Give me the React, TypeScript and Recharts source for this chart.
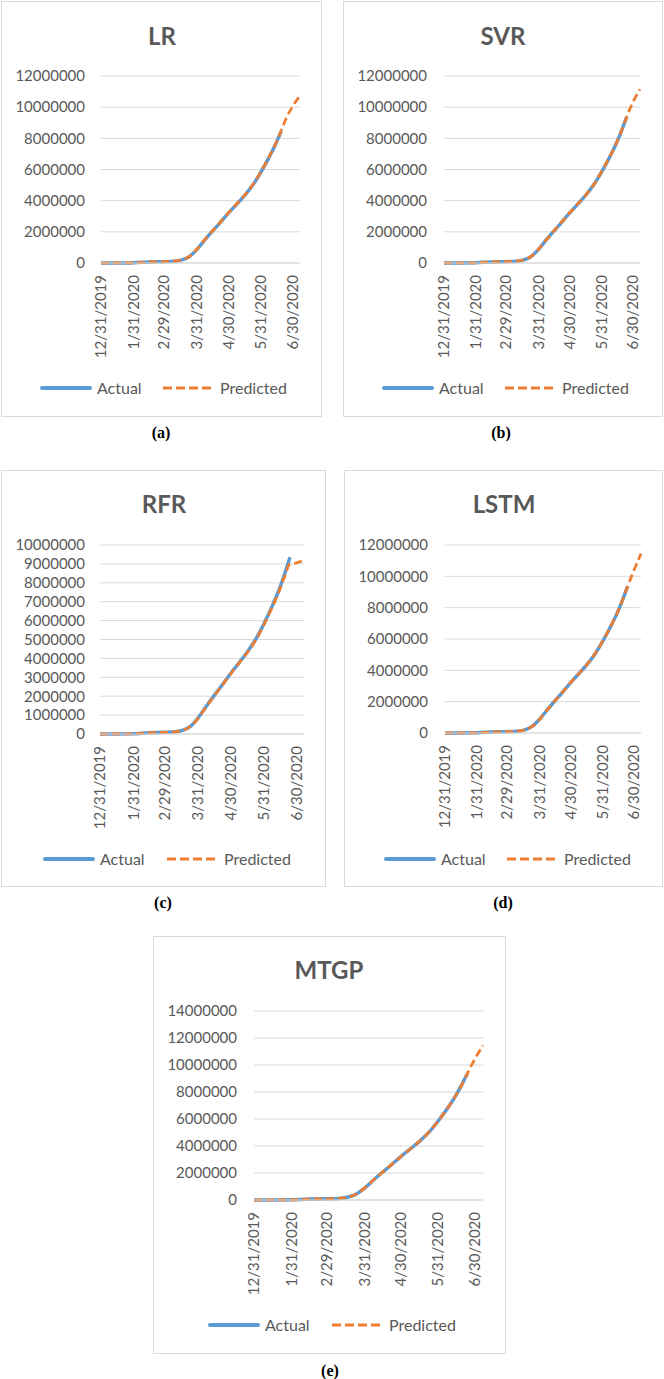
import React from 'react';
import { LineChart, Line, XAxis, YAxis, CartesianGrid } from 'recharts';

// days since 12/31/2019
const DAYS = [0, 15, 31, 45, 60, 70, 77, 84, 91, 98, 105, 112, 121, 129, 137, 145, 152, 159, 166, 171, 176, 182, 189];

const ACTUAL = [27, 1500, 9800, 71000, 87000, 118000, 200000, 420000, 860000, 1430000, 1980000, 2500000, 3200000, 3780000, 4380000, 5080000, 5850000, 6700000, 7650000, 8450000, 9350000, null, null];

const LR_PRED = [0, 2000, 10000, 66000, 86000, 121000, 210000, 430000, 880000, 1450000, 2000000, 2520000, 3220000, 3800000, 4400000, 5100000, 5870000, 6720000, 7670000, 8470000, 9300000, 10050000, 10750000];
const SVR_PRED = [0, 1800, 9500, 68000, 88000, 119000, 205000, 425000, 870000, 1440000, 1990000, 2510000, 3210000, 3790000, 4390000, 5090000, 5860000, 6710000, 7660000, 8460000, 9350000, 10300000, 11150000];
const RFR_PRED = [0, 1600, 9000, 69000, 86000, 117000, 198000, 410000, 840000, 1400000, 1960000, 2480000, 3180000, 3760000, 4350000, 5030000, 5800000, 6640000, 7560000, 8330000, 9000000, 9050000, 9200000];
const LSTM_PRED = [0, 1700, 9600, 70000, 87000, 118000, 202000, 422000, 865000, 1435000, 1985000, 2505000, 3205000, 3785000, 4385000, 5085000, 5855000, 6705000, 7655000, 8455000, 9350000, 10350000, 11450000];
const MTGP_PRED = [0, 1600, 9700, 70000, 87000, 118000, 201000, 421000, 862000, 1432000, 1982000, 2502000, 3202000, 3782000, 4382000, 5082000, 5852000, 6702000, 7652000, 8452000, 9350000, 10400000, 11450000];

const TICK_DAYS = [0, 31, 60, 91, 121, 152, 182];
const TICK_LABELS = ['12/31/2019', '1/31/2020', '2/29/2020', '3/31/2020', '4/30/2020', '5/31/2020', '6/30/2020'];

const Y_TICKS_12M = [0, 2000000, 4000000, 6000000, 8000000, 10000000, 12000000];
const Y_TICKS_10M = [0, 1000000, 2000000, 3000000, 4000000, 5000000, 6000000, 7000000, 8000000, 9000000, 10000000];
const Y_TICKS_14M = [0, 2000000, 4000000, 6000000, 8000000, 10000000, 12000000, 14000000];

const MODELS = [
  { title: 'LR', label: '(a)', pred: LR_PRED, actualEnd: 171, yTicks: Y_TICKS_12M },
  { title: 'SVR', label: '(b)', pred: SVR_PRED, actualEnd: 176, yTicks: Y_TICKS_12M },
  { title: 'RFR', label: '(c)', pred: RFR_PRED, actualEnd: 176, yTicks: Y_TICKS_10M },
  { title: 'LSTM', label: '(d)', pred: LSTM_PRED, actualEnd: 176, yTicks: Y_TICKS_12M },
  { title: 'MTGP', label: '(e)', pred: MTGP_PRED, actualEnd: 176, yTicks: Y_TICKS_14M },
];

// page positions (px)
const LAYOUT = [
  { x: 1, y: 1, w: 321, h: 416, plotL: 101, plotR: 300, plotT: 76, plotB: 263, labelR: 85, titleX: 162, titleY: 35, legendY: 388, actualX: 40, predX: 163, capX: 161, capY: 433 },
  { x: 343, y: 1, w: 320, h: 416, plotL: 444, plotR: 640, plotT: 76, plotB: 263, labelR: 427, titleX: 503, titleY: 35, legendY: 388, actualX: 382, predX: 505, capX: 501, capY: 433 },
  { x: 1, y: 470, w: 325, h: 417, plotL: 100, plotR: 304, plotT: 545, plotB: 734, labelR: 85, titleX: 164, titleY: 503, legendY: 859, actualX: 43, predX: 167, capX: 163, capY: 903 },
  { x: 344, y: 470, w: 319, h: 417, plotL: 445, plotR: 641, plotT: 545, plotB: 733, labelR: 428, titleX: 504, titleY: 503, legendY: 859, actualX: 384, predX: 507, capX: 503, capY: 903 },
  { x: 153, y: 936, w: 353, h: 418, plotL: 254, plotR: 483, plotT: 1011, plotB: 1200, labelR: 237, titleX: 329, titleY: 969, legendY: 1325, actualX: 208, predX: 332, capX: 330, capY: 1371 },
];

const TEXT = '#595959';
const FONT = 'Lato, "Open Sans", sans-serif';
const X_AXIS_H = 110;

const DateTick = (props: any) => {
  const { x, y, payload } = props;
  const idx = TICK_DAYS.indexOf(payload.value);
  return (
    <text x={x} y={y} dy="0.35em" transform={`rotate(-90, ${x}, ${y})`} textAnchor="end" fill={TEXT} fontSize={15} fontFamily={FONT}>
      {TICK_LABELS[idx]}
    </text>
  );
};

function Panel({ model, pos }: { model: any; pos: any }) {
  const data = DAYS.map((d, i) => ({
    day: d,
    actual: d <= model.actualEnd ? ACTUAL[i] : null,
    predicted: model.pred[i],
  }));
  const yMax = model.yTicks[model.yTicks.length - 1];
  const margin = {
    top: pos.plotT - pos.y,
    right: pos.x + pos.w - pos.plotR,
    left: 0,
    bottom: pos.y + pos.h - pos.plotB - X_AXIS_H,
  };

  return (
    <>
      <div style={{ position: 'absolute', left: pos.x, top: pos.y, width: pos.w, height: pos.h, border: '1px solid #d9d9d9', boxSizing: 'border-box' }} />
      <div style={{ position: 'absolute', left: pos.x, top: pos.y }}>
        <LineChart width={pos.w} height={pos.h} data={data} margin={margin}>
          <CartesianGrid vertical={false} stroke="#d9d9d9" />
          <XAxis
            type="number"
            dataKey="day"
            domain={[0, 189]}
            ticks={TICK_DAYS}
            interval={0}
            tick={<DateTick />}
            tickLine={false}
            tickSize={0}
            tickMargin={12}
            axisLine={{ stroke: '#d9d9d9' }}
            height={X_AXIS_H}
          />
          <YAxis
            domain={[0, yMax]}
            ticks={model.yTicks}
            interval={0}
            width={pos.plotL - pos.x}
            tickLine={false}
            axisLine={false}
            tickSize={0}
            tickMargin={pos.plotL - pos.labelR}
            tick={{ fill: TEXT, fontSize: 15, fontFamily: FONT }}
          />
          <Line dataKey="actual" type="monotone" stroke="#5B9BD5" strokeWidth={3.5} dot={false} activeDot={false} isAnimationActive={false} />
          <Line dataKey="predicted" type="monotone" stroke="#ED7D31" strokeWidth={2.75} strokeDasharray="8 4" dot={false} activeDot={false} isAnimationActive={false} />
        </LineChart>
      </div>
      <div style={{ position: 'absolute', left: pos.titleX, top: pos.titleY, transform: 'translate(-50%, -50%)', font: `bold 24px ${FONT}`, color: TEXT, whiteSpace: 'nowrap' }}>
        {model.title}
      </div>
      <svg style={{ position: 'absolute', left: pos.actualX, top: pos.legendY - 4 }} width={52} height={8}>
        <line x1={2} y1={4} x2={50} y2={4} stroke="#5B9BD5" strokeWidth={4} strokeLinecap="round" />
      </svg>
      <div style={{ position: 'absolute', left: pos.actualX + 57, top: pos.legendY, transform: 'translateY(-50%)', fontSize: 16, fontFamily: FONT, color: TEXT, lineHeight: '20px' }}>
        Actual
      </div>
      <svg style={{ position: 'absolute', left: pos.predX, top: pos.legendY - 4 }} width={52} height={8}>
        <line x1={0} y1={4} x2={52} y2={4} stroke="#ED7D31" strokeWidth={3} strokeDasharray="9 4" />
      </svg>
      <div style={{ position: 'absolute', left: pos.predX + 57, top: pos.legendY, transform: 'translateY(-50%)', fontSize: 16, fontFamily: FONT, color: TEXT, lineHeight: '20px' }}>
        Predicted
      </div>
      <div style={{ position: 'absolute', left: pos.capX, top: pos.capY, transform: 'translate(-50%, -50%)', font: 'bold 16px "Liberation Serif", "Times New Roman", serif', color: '#000', whiteSpace: 'nowrap' }}>
        {model.label}
      </div>
    </>
  );
}

export default function App() {
  return (
    <div style={{ position: 'absolute', left: 0, top: 0, width: 664, height: 1379, background: '#fff', overflow: 'hidden' }}>
      {MODELS.map((m, i) => (
        <Panel key={m.title} model={m} pos={LAYOUT[i]} />
      ))}
    </div>
  );
}
